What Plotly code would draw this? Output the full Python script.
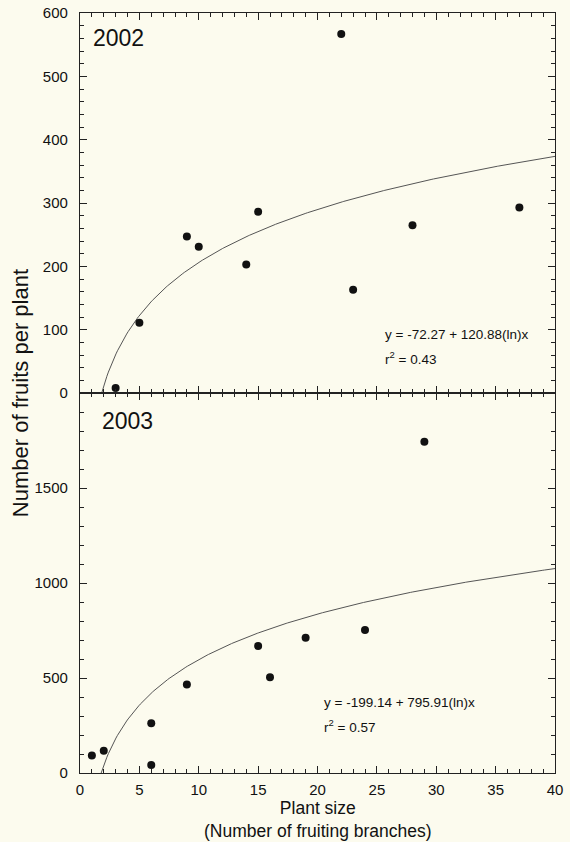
import numpy as np
import plotly.graph_objects as go
from plotly.subplots import make_subplots

# 2002 data
x2002 = [3, 5, 9, 10, 14, 15, 22, 23, 28, 37]
y2002 = [8, 111, 247, 231, 203, 286, 567, 163, 265, 293]
# 2003 data
x2003 = [1, 2, 6, 6, 9, 15, 16, 19, 24, 29]
y2003 = [92, 117, 262, 42, 466, 669, 504, 712, 752, 1743]

# regression coefficients (a, b)
fit2002 = (-72.27, 120.88)   # natural log
fit2003 = (-199.14, 795.91)  # plotted as log10

eq2002 = "y = -72.27 + 120.88(ln)x"
r2002 = "r<sup>2</sup> = 0.43"
eq2003 = "y = -199.14 + 795.91(ln)x"
r2003 = "r<sup>2</sup> = 0.57"

xticks = [0, 5, 10, 15, 20, 25, 30, 35, 40]
yticks_top = [0, 100, 200, 300, 400, 500, 600]
yticks_bot = [0, 500, 1000, 1500]

FONT = "Liberation Sans, Arial, sans-serif"
BG = "#fcfbee"
AX = "#222222"

fig = make_subplots(rows=2, cols=1, shared_xaxes=True, vertical_spacing=0)

xc = np.linspace(1.75, 40, 300)
yc02 = fit2002[0] + fit2002[1] * np.log(xc)
yc03 = fit2003[0] + fit2003[1] * np.log10(xc)

fig.add_trace(go.Scatter(x=xc, y=yc02, mode="lines",
                         line=dict(color="#555555", width=1), showlegend=False), row=1, col=1)
fig.add_trace(go.Scatter(x=x2002, y=y2002, mode="markers",
                         marker=dict(color="#111111", size=8), showlegend=False), row=1, col=1)
fig.add_trace(go.Scatter(x=xc, y=yc03, mode="lines",
                         line=dict(color="#555555", width=1), showlegend=False), row=2, col=1)
fig.add_trace(go.Scatter(x=x2003, y=y2003, mode="markers",
                         marker=dict(color="#111111", size=8), showlegend=False), row=2, col=1)

common_x = dict(range=[0, 40], showline=True, linecolor=AX, linewidth=1.3,
                mirror="ticks", ticks="inside", ticklen=7, tickwidth=1, tickcolor=AX,
                tickvals=xticks, showgrid=False, zeroline=False, automargin=False,
                ticklabelstandoff=3,
                minor=dict(ticks="inside", ticklen=4, tickwidth=1, tickcolor=AX, dtick=1, showgrid=False),
                tickfont=dict(family=FONT, size=15, color="#111111"))
fig.update_xaxes(**common_x)
fig.update_xaxes(showticklabels=False, row=1, col=1)
fig.update_xaxes(showticklabels=True, row=2, col=1)

common_y = dict(showline=True, linecolor=AX, linewidth=1.3, mirror="ticks",
                ticks="inside", ticklen=7, tickwidth=1, tickcolor=AX,
                showgrid=False, zeroline=False, automargin=False,
                ticklabelstandoff=8,
                tickfont=dict(family=FONT, size=15, color="#111111"))
fig.update_yaxes(**common_y)
fig.update_yaxes(range=[0, 600], tickvals=yticks_top,
                 minor=dict(ticks="inside", ticklen=4, tickwidth=1, tickcolor=AX, dtick=20, showgrid=False),
                 row=1, col=1)
fig.update_yaxes(range=[0, 2000], tickvals=yticks_bot,
                 minor=dict(ticks="inside", ticklen=4, tickwidth=1, tickcolor=AX, dtick=100, showgrid=False),
                 row=2, col=1)

annos = [
    dict(text="2002", x=0.95, y=561, xref="x", yref="y", xanchor="left", yanchor="middle",
         showarrow=False, font=dict(family=FONT, size=23, color="#111111")),
    dict(text="2003", x=1.7, y=1852, xref="x2", yref="y2", xanchor="left", yanchor="middle",
         showarrow=False, font=dict(family=FONT, size=23, color="#111111")),
    dict(text=eq2002, x=25.5, y=93, xref="x", yref="y", xanchor="left", yanchor="middle",
         showarrow=False, font=dict(family=FONT, size=13.5, color="#111111")),
    dict(text=r2002, x=25.5, y=55, xref="x", yref="y", xanchor="left", yanchor="middle",
         showarrow=False, font=dict(family=FONT, size=13.5, color="#111111")),
    dict(text=eq2003, x=20.35, y=370, xref="x2", yref="y2", xanchor="left", yanchor="middle",
         showarrow=False, font=dict(family=FONT, size=13.5, color="#111111")),
    dict(text=r2003, x=20.35, y=248, xref="x2", yref="y2", xanchor="left", yanchor="middle",
         showarrow=False, font=dict(family=FONT, size=13.5, color="#111111")),
    dict(text="Number of fruits per plant", x=-0.126, y=0.5, xref="paper", yref="paper",
         xanchor="center", yanchor="middle", textangle=-90, showarrow=False,
         font=dict(family=FONT, size=22, color="#111111")),
    dict(text="Plant size<br>(Number of fruiting branches)", x=0.5, y=-0.0895,
         xref="paper", yref="paper", xanchor="center", yanchor="bottom",
         showarrow=False, borderpad=0, borderwidth=0, align="center",
         font=dict(family=FONT, size=17.5, color="#111111")),
]

fig.update_layout(
    width=570, height=842,
    margin=dict(l=80, r=15, t=13, b=69),
    paper_bgcolor=BG, plot_bgcolor=BG,
    annotations=annos,
    showlegend=False,
)

fig.write_html("out.html", config={"displayModeBar": False},
               post_script="document.body.style.margin='0';document.body.style.overflow='hidden';document.body.style.background='%s';" % BG)
